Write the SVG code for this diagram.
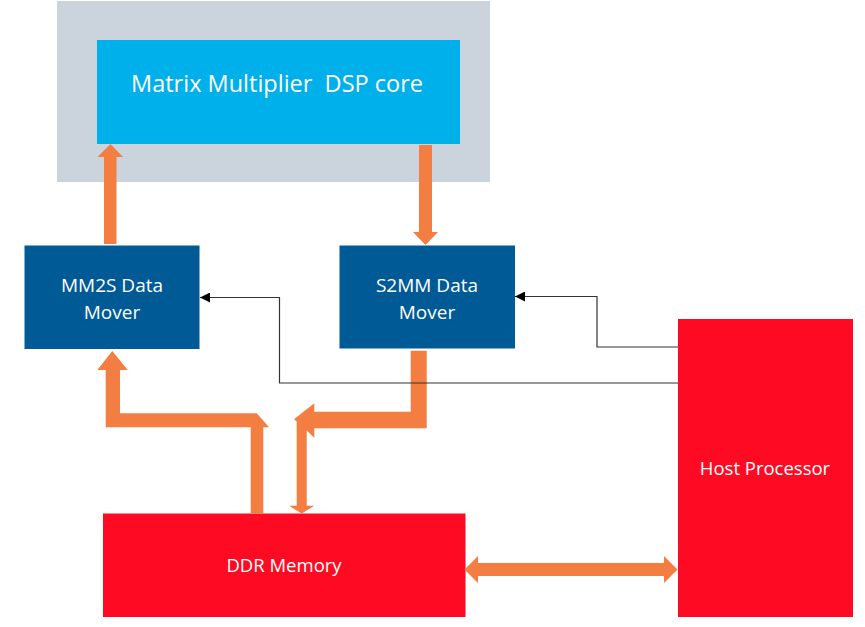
<svg xmlns="http://www.w3.org/2000/svg" width="865" height="627" viewBox="0 0 865 627">
<style>
.lbl{font-family:"Open Sans","Noto Sans","Liberation Sans",sans-serif;fill:#ffffff;text-anchor:middle}
.big{font-size:23.5px}
.mid{font-size:19px}
.red{font-size:18.5px}
.fat{fill:#F47D42}
.thin{fill:none;stroke:#333333;stroke-width:1.2}
</style>
<defs>
<marker id="tri" viewBox="0 0 10 10" refX="10" refY="5" markerWidth="10" markerHeight="10" markerUnits="userSpaceOnUse" orient="auto">
<path d="M0,0 L10,5 L0,10 z" fill="#000000"/>
</marker>
</defs>
<rect width="865" height="627" fill="#ffffff"/>
<g id="container">
<rect x="57" y="1" width="433" height="181" fill="#CBD3DC"/>
</g>
<g id="dsp">
<rect x="97" y="40" width="363" height="104" fill="#00B0EA"/>
<text class="lbl big" x="277" y="92" xml:space="preserve">Matrix Multiplier  DSP core</text>
</g>
<g id="mm2s">
<rect x="24.5" y="245.5" width="175" height="103.5" fill="#005A96"/>
<text class="lbl mid" x="112" y="292">MM2S Data</text>
<text class="lbl mid" x="112" y="318.5">Mover</text>
</g>
<g id="s2mm">
<rect x="339.5" y="245.5" width="175.5" height="103" fill="#005A96"/>
<text class="lbl mid" x="427" y="292">S2MM Data</text>
<text class="lbl mid" x="427" y="318.5">Mover</text>
</g>
<g id="ddr">
<rect x="103" y="513.5" width="362.5" height="103.5" fill="#FF0A23"/>
<text class="lbl red" x="284" y="572">DDR Memory</text>
</g>
<g id="host">
<rect x="678" y="319" width="175" height="298" fill="#FF0A23"/>
<text class="lbl red" x="765" y="475">Host Processor</text>
</g>
<g id="connectors">
<polygon class="fat" points="104,244 104,157 97.5,157 110.5,144 123,157 116.5,157 116.5,244"/>
<polygon class="fat" points="419,145 432,145 432,232 438,232 425.5,245 413,232 419,232"/>
<polygon class="fat" points="105.7,370 97.3,370 112.3,351 127.7,370 120,370 120,413.3 256.7,413.3 269,427.3 263.3,427.3 263.3,513.5 250.7,513.5 250.7,427.3 105.7,427.3"/>
<polygon class="fat" points="410.7,350.7 426.7,350.7 426.7,428.3 314.3,428.3 314.3,437.7 306.7,430.5 306.7,505.7 314.3,505.7 301.7,513.5 289,505.7 296.7,505.7 296.7,421.5 294,419.3 314.3,403.3 314.3,411.7 410.7,411.7"/>
<polygon class="fat" points="464.5,569.5 478,556 478,563 664,563 664,556 677.5,569.5 664,583 664,576 478,576 478,583"/>
<polyline class="thin" points="678,383 279.5,383 279.5,297.5 200,297.5" marker-end="url(#tri)"/>
<polyline class="thin" points="678,347 597,347 597,296.5 515,296.5" marker-end="url(#tri)"/>
</g>
</svg>
